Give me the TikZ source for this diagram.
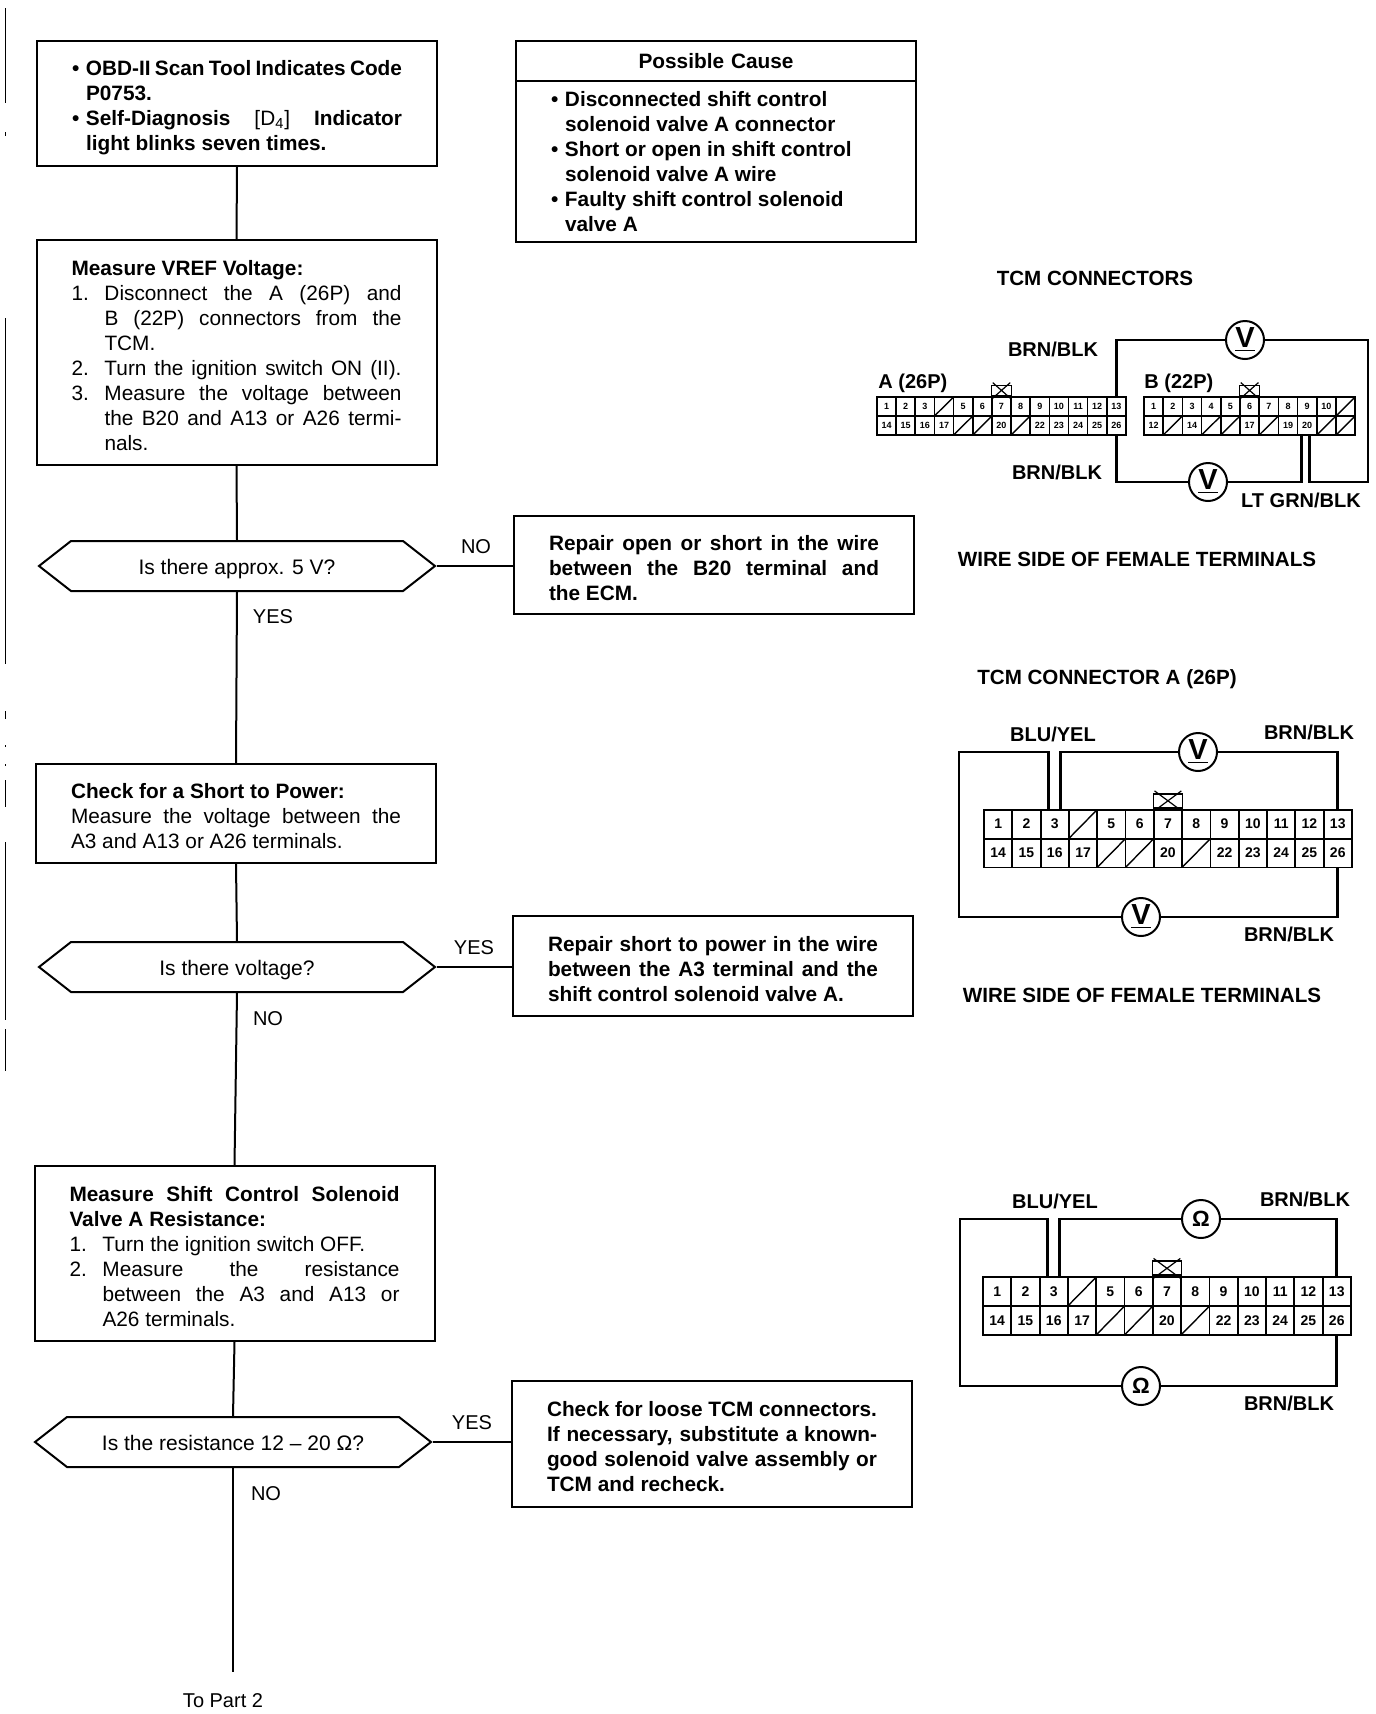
\documentclass[tikz,border=0pt]{standalone}
\usepackage{fontspec}
\setmainfont{Liberation Sans}
\usetikzlibrary{shapes.symbols}
\newcommand{\spreadline}[1]{\makebox[\hsize][s]{#1}}
\newcommand{\bulletline}[1]{\makebox[7pt][l]{\textbullet}#1}
\newcommand{\bulletspread}[1]{\makebox[7pt][l]{\textbullet}\makebox[\dimexpr\hsize-7pt\relax][s]{#1}}
\newcommand{\numline}[2]{\makebox[16.5pt][l]{#1}#2}
\newcommand{\numspread}[2]{\makebox[16.5pt][l]{#1}\makebox[\dimexpr\hsize-16.5pt\relax][s]{#2}}
\newcommand{\contline}[1]{\hspace*{16.5pt}#1}
\newcommand{\contspread}[1]{\hspace*{16.5pt}\makebox[\dimexpr\hsize-16.5pt\relax][s]{#1}}
\newcommand{\termrow}[6]{\foreach \lab [count=\i] in {#6}
\node[#5] (#1\i) at ({#2+(\i-.5)*#4},#3) {\lab};}
\tikzset{
flowbox/.style={draw,line width=1pt,minimum width=200pt,text width=165pt,inner xsep=17.5pt,inner ysep=0pt,align=flush left,font=\fontsize{10.4}{12.5}\selectfont},
lowered/.style={execute at begin node={\rule{0pt}{#1}}},
hexbox/.style={draw,line width=1pt,signal,signal to=west and east,signal pointer angle=76,minimum width=198pt,minimum height=25pt,inner sep=0pt,text height=10.2pt,text depth=2pt,font=\fontsize{10.5}{12.5}\selectfont},
answer/.style={inner sep=0pt,font=\fontsize{10}{12}\selectfont},
title/.style={inner sep=0pt,font=\fontsize{10.3}{12}\selectfont\bfseries},
wirelabel/.style={inner sep=0pt,font=\fontsize{10}{12}\selectfont\bfseries},
smallcell/.style={draw,line width=.8pt,minimum width=9.6pt,minimum height=9.5pt,inner sep=0pt,font=\fontsize{4.5}{5}\selectfont\bfseries},
bigcell/.style={draw,line width=.9pt,minimum width=14.15pt,minimum height=14.4pt,inner sep=0pt,font=\fontsize{7}{7}\selectfont\bfseries},
smalltab/.style={draw,line width=.8pt,minimum width=10pt,minimum height=5pt,inner sep=0pt,anchor=south},
bigtab/.style={draw,line width=.9pt,minimum width=14.5pt,minimum height=7pt,inner sep=0pt,anchor=south},
meter/.style={draw,circle,fill=white,line width=1pt,minimum size=19pt,inner sep=0pt,font=\fontsize{14.5}{14.5}\selectfont\bfseries},
ohmmeter/.style={meter,font=\fontsize{11}{11}\selectfont\bfseries},
wire/.style={line width=1.3pt},
flowline/.style={line width=1pt},
slash/.style={line width=.7pt,shorten >=1pt,shorten <=1pt}
}
\begin{document}
\begin{tikzpicture}
[x=.5pt,y=-.5pt]
\useasboundingbox (0,0) rectangle (1376,1714);
\foreach \ya/\yb in {8/103,132/136,318/664,711/719,745/747,764/766,780/807,842/1020,1029/1071}
\draw[line width=.9pt] (5.5,\ya) -- (5.5,\yb);

\node[flowbox,lowered=12pt,minimum height=62.5pt] (start) at (237,103.5) {\bfseries
\bulletspread{OBD-II Scan Tool Indicates Code}\\
\hspace*{7pt}P0753.\\
\bulletspread{Self-Diagnosis \textnormal{[D\textsubscript{4}]} Indicator}\\
\hspace*{7pt}light blinks seven times.};
\node[flowbox,lowered=10.2pt,minimum height=112.5pt] (vref) at (236.5,352.5) {\textbf{Measure VREF Voltage:}\\
\numspread{1.}{Disconnect the A (26P) and}\\
\contspread{B (22P) connectors from the}\\
\contline{TCM.}\\
\numspread{2.}{Turn the ignition switch ON (II).}\\
\numspread{3.}{Measure the voltage between}\\
\contspread{the B20 and A13 or A26 termi-}\\
\contline{nals.}};
\node[hexbox] (hexvref) at (237,566) {Is there approx. 5 V?};
\node[flowbox,lowered=10.2pt,minimum height=49.5pt] (short) at (236,813.5) {\textbf{Check for a Short to Power:}\\
\spreadline{Measure the voltage between the}\\
A3 and A13 or A26 terminals.};
\node[hexbox] (hexshort) at (237,967) {Is there voltage?};
\node[flowbox,lowered=10.2pt,minimum height=87.5pt] (resist) at (234.5,1253.5) {\bfseries
\spreadline{Measure Shift Control Solenoid}\\
Valve A Resistance:\\
\mdseries\numline{1.}{Turn the ignition switch OFF.}\\
\numspread{2.}{Measure the resistance}\\
\contspread{between the A3 and A13 or}\\
\contline{A26 terminals.}};
\node[hexbox] (hexresist) at (233,1442) {Is the resistance 12 – 20 Ω?};
\coordinate (part2) at (233,1672);
\node[answer] (topart) at (223,1701) {To Part 2};

\node[flowbox,minimum height=20pt,align=center] (causehead) at (716,61) {\bfseries Possible Cause};
\node[flowbox,minimum height=80.5pt] (cause) at (716,161.5) {\bfseries
\bulletline{Disconnected shift control}\\
\hspace*{7pt}solenoid valve A connector\\
\bulletline{Short or open in shift control}\\
\hspace*{7pt}solenoid valve A wire\\
\bulletline{Faulty shift control solenoid}\\
\hspace*{7pt}valve A};
\node[flowbox,lowered=10.2pt,minimum height=49pt] (fixvref) at (714,565) {\bfseries
\spreadline{Repair open or short in the wire}\\
\spreadline{between the B20 terminal and}\\
the ECM.};
\node[flowbox,lowered=10.2pt,minimum height=50pt] (fixshort) at (713,966) {\bfseries
\spreadline{Repair short to power in the wire}\\
\spreadline{between the A3 terminal and the}\\
shift control solenoid valve A.};
\node[flowbox,lowered=10.2pt,minimum height=63pt] (fixresist) at (712,1444) {\bfseries
\spreadline{Check for loose TCM connectors.}\\
\spreadline{If necessary, substitute a known-}\\
\spreadline{good solenoid valve assembly or}\\
TCM and recheck.};

\foreach \from/\to in {start/vref,vref/hexvref,hexvref/short,short/hexshort,hexshort/resist,resist/hexresist}
\draw[flowline] (\from.south) -- (\to.north);
\draw[flowline] (hexresist.south) -- (part2);
\foreach \from/\to in {hexvref/fixvref,hexshort/fixshort,hexresist/fixresist}
\draw[flowline] (\from.east) -- (\from.east -| \to.west);

\node[answer] (novref) at (476,547) {NO};
\node[answer] (yesvref) at (273,617) {YES};
\node[answer] (yesshort) at (474,948) {YES};
\node[answer] (noshort) at (268,1019) {NO};
\node[answer] (yesresist) at (472,1423) {YES};
\node[answer] (noresist) at (266,1494) {NO};

\node[title] (tcmtitle) at (1095,278) {TCM CONNECTORS};
\node[wirelabel] (abrn) at (1053,349) {BRN/BLK};
\node[wirelabel,anchor=west] (alabel) at (878,383) {A (26P)};
\node[wirelabel,anchor=west] (blabel) at (1144,383) {B (22P)};
\node[wirelabel] (abrnlow) at (1057,472) {BRN/BLK};
\node[wirelabel] (bgrn) at (1301,500) {LT GRN/BLK};
\node[title] (wireone) at (1137,559) {WIRE SIDE OF FEMALE TERMINALS};
\termrow{at}{877}{406.5}{19.15}{smallcell}{1,2,3,,5,6,7,8,9,10,11,12,13}
\termrow{ab}{877}{425.5}{19.15}{smallcell}{14,15,16,17,,,20,,22,23,24,25,26}
\termrow{bt}{1144}{406.5}{19.2}{smallcell}{1,2,3,4,5,6,7,8,9,10,}
\termrow{bb}{1144}{425.5}{19.2}{smallcell}{12,,14,,,17,,19,20,,}
\node[smalltab] (atab) at (at7.north) {};
\node[smalltab] (btab) at (bt6.north) {};
\node[meter] (vtop) at (1245,340) {\underline{V}};
\node[meter] (vbot) at (1208,482) {\underline{V}};
\coordinate (bcorner) at (1368,482);
\draw[wire] (at13.north) |- (vtop.west);
\draw[wire] (vtop.east) -| (bcorner) -| ([xshift=1pt]bb9.south);
\draw[wire] (ab13.south) |- (vbot.west);
\draw[wire] (vbot.east) -| ([xshift=-3pt]bb9.south);

\node[title] (ctitle) at (1107,679) {TCM CONNECTOR A (26P)};
\node[wirelabel] (cblu) at (1053,734) {BLU/YEL};
\node[wirelabel] (cbrn) at (1309,732) {BRN/BLK};
\node[wirelabel] (cbrnlow) at (1289,934) {BRN/BLK};
\node[title] (wiretwo) at (1142,995) {WIRE SIDE OF FEMALE TERMINALS};
\termrow{ct}{984}{824}{28.3}{bigcell}{1,2,3,,5,6,7,8,9,10,11,12,13}
\termrow{cb}{984}{853}{28.3}{bigcell}{14,15,16,17,,,20,,22,23,24,25,26}
\node[bigtab] (ctab) at (ct7.north) {};
\node[meter] (cvup) at (1198,752) {\underline{V}};
\node[meter] (cvlow) at (1141,917) {\underline{V}};
\coordinate (ccorner) at (959,752);
\draw[wire] ([xshift=-3pt]ct3.north) |- (ccorner) |- (cvlow.west);
\draw[wire] (cvlow.east) -| (cb13.south);
\draw[wire] ([xshift=3pt]ct3.north) |- (cvup.west);
\draw[wire] (cvup.east) -| (ct13.north);

\node[wirelabel] (dblu) at (1055,1201) {BLU/YEL};
\node[wirelabel] (dbrn) at (1305,1199) {BRN/BLK};
\node[wirelabel] (dbrnlow) at (1289,1403) {BRN/BLK};
\termrow{dt}{983}{1291.5}{28.3}{bigcell}{1,2,3,,5,6,7,8,9,10,11,12,13}
\termrow{db}{983}{1320.5}{28.3}{bigcell}{14,15,16,17,,,20,,22,23,24,25,26}
\node[bigtab] (dtab) at (dt7.north) {};
\node[ohmmeter] (dvup) at (1201,1219) {Ω};
\node[ohmmeter] (dvlow) at (1141,1386) {Ω};
\coordinate (dcorner) at (960,1219);
\draw[wire] ([xshift=-3pt]dt3.north) |- (dcorner) |- (dvlow.west);
\draw[wire] (dvlow.east) -| (db13.south);
\draw[wire] ([xshift=3pt]dt3.north) |- (dvup.west);
\draw[wire] (dvup.east) -| (dt13.north);

\foreach \c in {at4,ab5,ab6,ab8,bt11,bb2,bb4,bb5,bb7,bb10,bb11,ct4,cb5,cb6,cb8,dt4,db5,db6,db8}
\draw[slash] (\c.south west) -- (\c.north east);
\foreach \c in {atab,btab,ctab,dtab}
\draw[line width=.6pt] ([shift={(1pt,-1pt)}]\c.south west) -- ([shift={(-1pt,1pt)}]\c.north east)
([shift={(1pt,1pt)}]\c.north west) -- ([shift={(-1pt,-1pt)}]\c.south east);
\end{tikzpicture}
\end{document}
